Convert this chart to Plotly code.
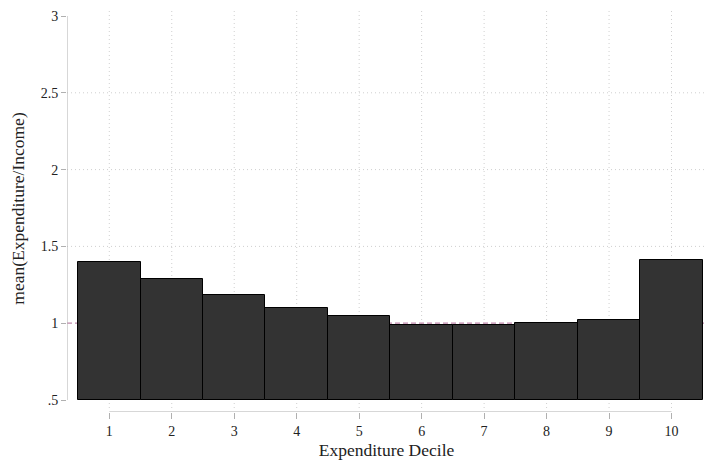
import plotly.graph_objects as go

# Mean expenditure-to-income ratio by expenditure decile
deciles = [1, 2, 3, 4, 5, 6, 7, 8, 9, 10]
ratio = [1.397, 1.286, 1.186, 1.101, 1.049, 0.988, 0.988, 0.999, 1.019, 1.411]

y_ticks = [0.5, 1, 1.5, 2, 2.5, 3]
y_tick_text = [".5", "1", "1.5", "2", "2.5", "3"]
base = 0.5

x_range = [0.323, 10.552]
y_range = [0.4219, 3.0716]

FONT = "Liberation Serif"
AXIS_GREY = "#b0b0b0"
GRID_GREY = "#cfcfcf"
DOT = "1px,3px"

fig = go.Figure()

fig.add_trace(go.Bar(
    x=deciles,
    y=[v - base for v in ratio],
    base=base,
    width=1.0,
    marker=dict(color="#333333", line=dict(color="#000000", width=1)),
    hoverinfo="skip",
    showlegend=False,
))

shapes = []
# dotted grid: horizontal at interior y ticks, vertical at each decile
for yv in [1.5, 2, 2.5]:
    shapes.append(dict(type="line", xref="x", yref="y", layer="below",
                       x0=x_range[0], x1=x_range[1], y0=yv, y1=yv,
                       line=dict(color=GRID_GREY, width=1, dash=DOT)))
for xv in deciles:
    shapes.append(dict(type="line", xref="x", yref="y", layer="below",
                       x0=xv, x1=xv, y0=0.448, y1=3.05,
                       line=dict(color=GRID_GREY, width=1, dash=DOT)))
# reference line at ratio = 1
shapes.append(dict(type="line", xref="x", yref="y", layer="below",
                   x0=x_range[0], x1=x_range[1], y0=1, y1=1,
                   line=dict(color="#bf86aa", width=1.2, dash="5px,3px")))
# axis lines spanning only the labelled ranges
shapes.append(dict(type="line", xref="x", yref="y",
                   x0=x_range[0], x1=x_range[0], y0=0.5, y1=3,
                   line=dict(color=AXIS_GREY, width=1)))
shapes.append(dict(type="line", xref="x", yref="y",
                   x0=1, x1=10, y0=y_range[0], y1=y_range[0],
                   line=dict(color=AXIS_GREY, width=1.2)))

fig.update_layout(
    width=706, height=460,
    margin=dict(l=67, r=0, t=5, b=48),
    paper_bgcolor="white", plot_bgcolor="white",
    font=dict(family=FONT, size=14, color="#222222"),
    shapes=shapes,
    bargap=0,
    xaxis=dict(
        range=x_range, tickmode="array", tickvals=deciles,
        ticktext=[str(d) for d in deciles],
        showgrid=False, zeroline=False, showline=False,
        ticks="outside", ticklen=6, tickcolor=AXIS_GREY, tickwidth=1,
        tickfont=dict(family=FONT, size=14, color="#222222"),
        title=dict(text="Expenditure Decile", standoff=5,
                   font=dict(family=FONT, size=17.5, color="#222222")),
    ),
    yaxis=dict(
        range=y_range, tickmode="array", tickvals=y_ticks, ticktext=y_tick_text,
        showgrid=False, zeroline=False, showline=False,
        ticks="outside", ticklen=5, tickcolor=AXIS_GREY, tickwidth=1,
        tickfont=dict(family=FONT, size=14, color="#222222"),
        title=dict(text="mean(Expenditure/Income)", standoff=11,
                   font=dict(family=FONT, size=17.5, color="#222222")),
    ),
)

fig.write_html("out.html")
